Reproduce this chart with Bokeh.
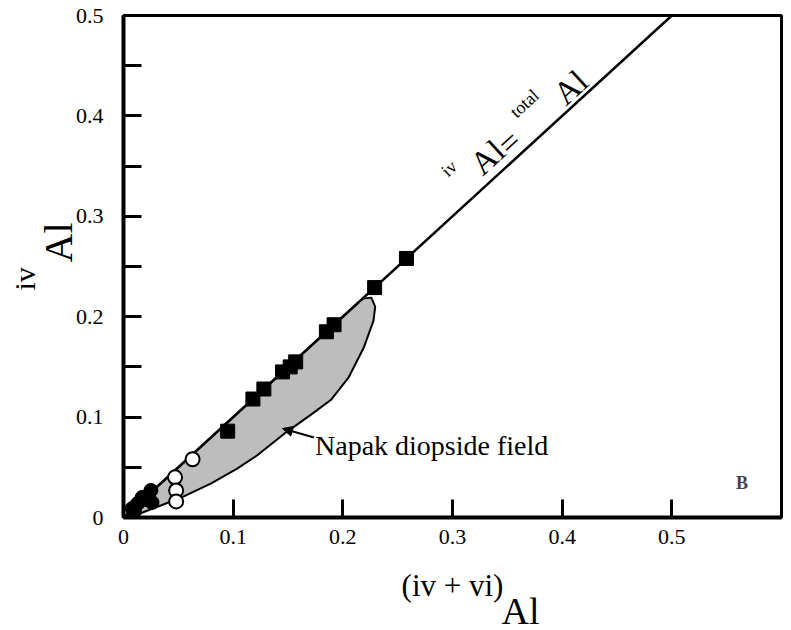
from bokeh.plotting import figure
from bokeh.models import (Range1d, FixedTicker, CustomJSTickFormatter, Label,
                          Arrow, NormalHead, Title)
from bokeh.embed import file_html
from bokeh.resources import INLINE

# ---------------- data ----------------
x_ticks = [0.0, 0.1, 0.2, 0.3, 0.4, 0.5]
y_ticks = [0.0, 0.1, 0.2, 0.3, 0.4, 0.5]
y_minor = [0.05, 0.15, 0.25, 0.35, 0.45]

# filled squares
sq_x = [0.095, 0.118, 0.128, 0.145, 0.152, 0.157, 0.185, 0.192, 0.229, 0.258]
sq_y = [0.086, 0.118, 0.128, 0.145, 0.150, 0.155, 0.185, 0.192, 0.229, 0.258]

# open circles
oc_x = [0.063, 0.047, 0.048, 0.048]
oc_y = [0.058, 0.040, 0.027, 0.016]

# filled circles
fc_x = [0.025, 0.026, 0.020, 0.017, 0.013, 0.008, 0.010]
fc_y = [0.027, 0.015, 0.018, 0.020, 0.014, 0.009, 0.006]

# 1:1 line
line_x = [0.0, 0.5]
line_y = [0.0, 0.5]

# Napak diopside field outline
field_x = [0.004, 0.05, 0.10, 0.15, 0.20, 0.218, 0.226, 0.2295, 0.228, 0.219,
           0.205, 0.189, 0.171, 0.146, 0.122, 0.104, 0.080, 0.055, 0.034,
           0.015, 0.004]
field_y = [0.004, 0.05, 0.10, 0.15, 0.20, 0.218, 0.219, 0.210, 0.196, 0.169,
           0.139, 0.117, 0.1025, 0.083, 0.062, 0.049, 0.034, 0.021, 0.012,
           0.004, 0.001]

SERIF = "Liberation Serif"

p = figure(width=783, height=630,
           x_range=Range1d(0, 0.6), y_range=Range1d(0, 0.5),
           output_backend="svg", toolbar_location=None,
           min_border_left=123, min_border_right=2,
           min_border_top=15, min_border_bottom=113,
           background_fill_color="white", border_fill_color="white")

p.xgrid.visible = False
p.ygrid.visible = False
p.outline_line_color = "black"
p.outline_line_width = 3
p.outline_line_alpha = 1.0

fmt = CustomJSTickFormatter(code="return tick == 0 ? '0' : tick.toFixed(1);")

p.xaxis.ticker = FixedTicker(ticks=x_ticks)
p.yaxis.ticker = FixedTicker(ticks=y_ticks, minor_ticks=y_minor)
for ax in (p.xaxis, p.yaxis):
    ax.formatter = fmt
    ax.axis_line_width = 4
    ax.axis_line_color = "black"
    ax.major_tick_in = 18
    ax.major_tick_out = 0
    ax.major_tick_line_width = 3
    ax.major_tick_line_color = "black"
    ax.major_label_text_font = SERIF
    ax.major_label_text_font_size = "22px"
    ax.major_label_text_color = "black"
p.xaxis.minor_tick_line_color = None
p.xaxis.major_label_standoff = 12
p.yaxis.minor_tick_in = 18
p.yaxis.minor_tick_out = 0
p.yaxis.minor_tick_line_width = 3
p.yaxis.minor_tick_line_color = "black"
p.yaxis.major_label_standoff = 20

# x axis label, first part
p.xaxis.axis_label = "(iv + vi)"
p.xaxis.axis_label_text_font = SERIF
p.xaxis.axis_label_text_font_size = "31px"
p.xaxis.axis_label_text_font_style = "normal"
p.xaxis.axis_label_text_color = "black"
p.xaxis.axis_label_standoff = 21

# field
p.patch(field_x, field_y, fill_color="#bdbdbd", line_color="black", line_width=2)

# 1:1 line
p.line(line_x, line_y, line_color="black", line_width=2.5)

# markers
p.scatter(sq_x, sq_y, marker="square", size=14, fill_color="black", line_color="black")
p.scatter(fc_x, fc_y, marker="circle", size=14, fill_color="black", line_color="black")
p.scatter(oc_x, oc_y, marker="circle", size=14, fill_color="white", line_color="black",
          line_width=2)

# arrow + field label
p.add_layout(Arrow(end=NormalHead(size=10, fill_color="black", line_color="black"),
                   x_start=0.1737, y_start=0.0797, x_end=0.145, y_end=0.0886,
                   line_color="black", line_width=2))
p.add_layout(Label(x=0.1746, y=0.0717, text="Napak diopside field",
                   text_font=SERIF, text_font_size="28px", text_color="black",
                   text_baseline="alphabetic", text_align="left"))

p.add_layout(Label(x=0.564, y=0.034, text="B", text_font=SERIF,
                   text_font_size="18px", text_font_style="bold",
                   text_align="center", text_baseline="middle"))

# diagonal line annotation
diag = [("iv", 0.297, 0.3476, "18px"),
        ("Al", 0.332, 0.3586, "33px"),
        ("=", 0.352, 0.3735, "33px"),
        ("total", 0.3656, 0.4124, "18px"),
        ("Al", 0.4077, 0.4283, "33px")]
for t, xx, yy, fs in diag:
    p.add_layout(Label(x=xx, y=yy, text=t, angle=42.5, angle_units="deg",
                       text_font=SERIF, text_font_size=fs, text_color="black",
                       text_align="center", text_baseline="middle"))

# y axis label (outer panels on the left)
p.add_layout(Title(text="Al", align="left", offset=255, standoff=-17,
                   vertical_align="bottom",
                   text_font=SERIF, text_font_size="40px",
                   text_font_style="normal", text_color="black"), "left")
p.add_layout(Title(text="iv", align="left", offset=227, standoff=4,
                   vertical_align="bottom",
                   text_font=SERIF, text_font_size="30px",
                   text_font_style="normal", text_color="black"), "left")

# x axis label, second part
p.add_layout(Title(text="Al", align="left", offset=378, standoff=-32,
                   vertical_align="top",
                   text_font=SERIF, text_font_size="38px",
                   text_font_style="normal", text_color="black"), "below")

open("out.html", "w").write(file_html(p, INLINE))
